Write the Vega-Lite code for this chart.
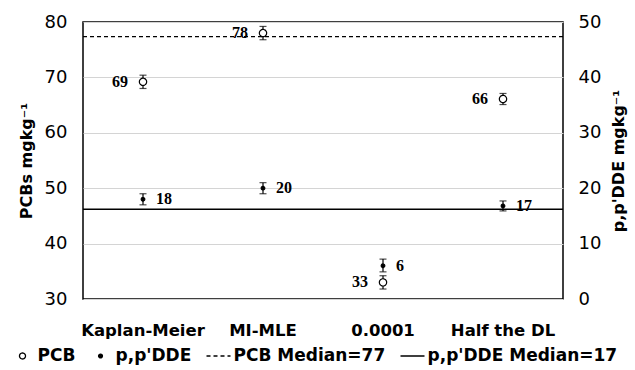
{
  "$schema": "https://vega.github.io/schema/vega-lite/v6.json",
  "width": 480,
  "height": 277,
  "autosize": {"type": "none"},
  "padding": {"left": 83, "top": 22, "right": 72, "bottom": 71},
  "background": "white",
  "config": {
    "font": "DejaVu Sans",
    "view": {"stroke": "black", "strokeWidth": 1.5},
    "axis": {
      "domain": false,
      "ticks": false,
      "labelFont": "DejaVu Sans",
      "labelColor": "black",
      "titleColor": "black",
      "titleFont": "DejaVu Sans",
      "titleFontWeight": "bold",
      "titleFontSize": 16,
      "gridColor": "#d4d4d4",
      "gridWidth": 1.2
    },
    "legend": {
      "orient": "none",
      "direction": "horizontal",
      "columns": 4,
      "legendX": -73.5,
      "legendY": 321,
      "labelFont": "DejaVu Sans",
      "labelFontSize": 17,
      "labelFontWeight": "bold",
      "labelColor": "black",
      "labelOffset": 2,
      "labelLimit": 300,
      "symbolSize": 576,
      "symbolStrokeColor": "black",
      "symbolStrokeWidth": 1.3,
      "symbolOpacity": 1,
      "columnPadding": 12
    }
  },
  "datasets": {
    "pcb": [
      {"method": "Kaplan-Meier", "series": "PCB", "value": 69.2, "lo": 68.0, "hi": 70.4, "label": "69"},
      {"method": "MI-MLE", "series": "PCB", "value": 78.0, "lo": 76.8, "hi": 79.2, "label": "78"},
      {"method": "0.0001", "series": "PCB", "value": 33.0, "lo": 31.8, "hi": 34.2, "label": "33"},
      {"method": "Half the DL", "series": "PCB", "value": 66.1, "lo": 65.1, "hi": 67.1, "label": "66"}
    ],
    "dde": [
      {"method": "Kaplan-Meier", "series": "p,p'DDE", "value": 18.0, "lo": 17.0, "hi": 19.0, "label": "18"},
      {"method": "MI-MLE", "series": "p,p'DDE", "value": 20.0, "lo": 19.0, "hi": 21.0, "label": "20"},
      {"method": "0.0001", "series": "p,p'DDE", "value": 6.0, "lo": 4.9, "hi": 7.2, "label": "6"},
      {"method": "Half the DL", "series": "p,p'DDE", "value": 16.8, "lo": 15.9, "hi": 17.7, "label": "17"}
    ]
  },
  "layer": [
    {
      "encoding": {
        "x": {
          "field": "method",
          "type": "nominal",
          "sort": ["Kaplan-Meier", "MI-MLE", "0.0001", "Half the DL"],
          "scale": {"type": "band", "paddingInner": 0, "paddingOuter": 0},
          "axis": {
            "title": null,
            "labelAngle": 0,
            "labelFontSize": 16.5,
            "labelFontWeight": "bold",
            "labelPadding": 23,
            "grid": false
          }
        },
        "y": {
          "field": "value",
          "type": "quantitative",
          "scale": {"domain": [30, 80], "nice": false, "zero": false},
          "axis": {
            "orient": "left",
            "title": "PCBs mgkg⁻¹",
            "values": [30, 40, 50, 60, 70, 80],
            "labelFontSize": 18,
            "labelPadding": 16,
            "titlePadding": 10,
            "grid": true
          }
        }
      },
      "layer": [
        {
          "data": {"values": [{"m": 77.35}]},
          "mark": {"type": "rule", "color": "black", "strokeWidth": 1.3, "strokeDash": [4, 3]},
          "encoding": {"x": null, "y": {"field": "m", "type": "quantitative"}}
        },
        {
          "data": {"name": "pcb"},
          "mark": {"type": "rule", "color": "black", "strokeWidth": 1.2},
          "encoding": {"y": {"field": "lo", "type": "quantitative"}, "y2": {"field": "hi"}}
        },
        {
          "data": {"name": "pcb"},
          "mark": {"type": "tick", "color": "black", "size": 7, "thickness": 1.2, "orient": "horizontal"},
          "encoding": {"y": {"field": "lo", "type": "quantitative"}}
        },
        {
          "data": {"name": "pcb"},
          "mark": {"type": "tick", "color": "black", "size": 7, "thickness": 1.2, "orient": "horizontal"},
          "encoding": {"y": {"field": "hi", "type": "quantitative"}}
        },
        {
          "data": {"name": "pcb"},
          "mark": {"type": "point", "filled": true, "size": 850, "strokeWidth": 1.2, "opacity": 1},
          "encoding": {
            "shape": {
              "field": "series",
              "type": "nominal",
              "scale": {
                "domain": ["PCB", "p,p'DDE", "PCB Median=77", "p,p'DDE Median=17"],
                "range": [
                  "M-0.25,0A0.25,0.25,0,1,0,0.25,0A0.25,0.25,0,1,0,-0.25,0Z",
                  "M-0.16,0A0.16,0.16,0,1,0,0.16,0A0.16,0.16,0,1,0,-0.16,0Z",
                  "M-1,0H1",
                  "M-1,0H1"
                ]
              },
              "legend": {"title": null}
            },
            "fill": {
              "field": "series",
              "type": "nominal",
              "scale": {
                "domain": ["PCB", "p,p'DDE", "PCB Median=77", "p,p'DDE Median=17"],
                "range": ["white", "black", "transparent", "transparent"]
              },
              "legend": {"title": null}
            },
            "stroke": {
              "field": "series",
              "type": "nominal",
              "scale": {
                "domain": ["PCB", "p,p'DDE", "PCB Median=77", "p,p'DDE Median=17"],
                "range": ["black", "black", "black", "black"]
              },
              "legend": {"title": null}
            },
            "strokeDash": {
              "field": "series",
              "type": "nominal",
              "scale": {
                "domain": ["PCB", "p,p'DDE", "PCB Median=77", "p,p'DDE Median=17"],
                "range": [[1, 0], [1, 0], [4, 3], [1, 0]]
              },
              "legend": {"title": null}
            }
          }
        },
        {
          "data": {"name": "pcb"},
          "mark": {"type": "text", "align": "right", "dx": -15, "font": "Liberation Serif", "fontSize": 16, "fontWeight": "bold", "color": "black"},
          "encoding": {"text": {"field": "label"}}
        }
      ]
    },
    {
      "encoding": {
        "x": {
          "field": "method",
          "type": "nominal",
          "sort": ["Kaplan-Meier", "MI-MLE", "0.0001", "Half the DL"]
        },
        "y": {
          "field": "value",
          "type": "quantitative",
          "scale": {"domain": [0, 50], "nice": false, "zero": false},
          "axis": {
            "orient": "right",
            "title": "p,p'DDE mgkg⁻¹",
            "titleAngle": 270,
            "titleBaseline": "top",
            "values": [0, 10, 20, 30, 40, 50],
            "labelFontSize": 18,
            "labelPadding": 15,
            "titlePadding": 10,
            "grid": false
          }
        }
      },
      "layer": [
        {
          "data": {"values": [{"m": 16.2}]},
          "mark": {"type": "rule", "color": "black", "strokeWidth": 1.5},
          "encoding": {"x": null, "y": {"field": "m", "type": "quantitative"}}
        },
        {
          "data": {"name": "dde"},
          "mark": {"type": "rule", "color": "black", "strokeWidth": 1.2},
          "encoding": {"y": {"field": "lo", "type": "quantitative"}, "y2": {"field": "hi"}}
        },
        {
          "data": {"name": "dde"},
          "mark": {"type": "tick", "color": "black", "size": 7, "thickness": 1.2, "orient": "horizontal"},
          "encoding": {"y": {"field": "lo", "type": "quantitative"}}
        },
        {
          "data": {"name": "dde"},
          "mark": {"type": "tick", "color": "black", "size": 7, "thickness": 1.2, "orient": "horizontal"},
          "encoding": {"y": {"field": "hi", "type": "quantitative"}}
        },
        {
          "data": {"name": "dde"},
          "mark": {"type": "point", "filled": true, "size": 506, "strokeWidth": 1.2, "opacity": 1},
          "encoding": {
            "shape": {"field": "series", "type": "nominal", "legend": {"title": null}},
            "fill": {"field": "series", "type": "nominal", "legend": {"title": null}},
            "stroke": {"field": "series", "type": "nominal", "legend": {"title": null}},
            "strokeDash": {"field": "series", "type": "nominal", "legend": {"title": null}}
          }
        },
        {
          "data": {"name": "dde"},
          "mark": {"type": "text", "align": "left", "dx": 13, "font": "Liberation Serif", "fontSize": 16, "fontWeight": "bold", "color": "black"},
          "encoding": {"text": {"field": "label"}}
        }
      ]
    }
  ],
  "resolve": {"scale": {"y": "independent"}}
}
